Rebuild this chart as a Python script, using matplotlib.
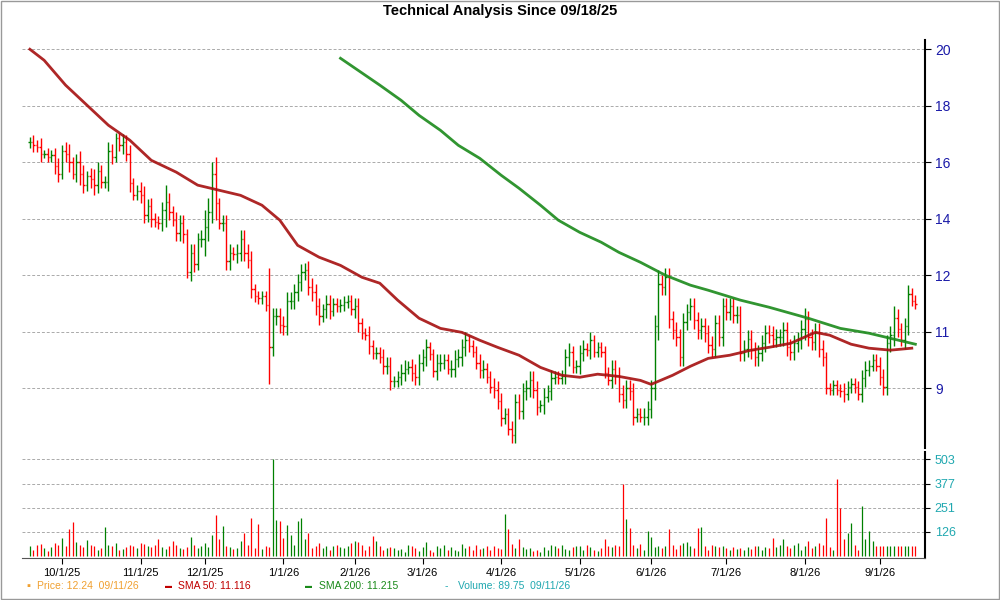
import matplotlib
matplotlib.use("Agg")
import matplotlib.pyplot as plt
import numpy as np
import pandas as pd
from pandas.tseries.holiday import USFederalHolidayCalendar
from pandas.tseries.offsets import CustomBusinessDay
from matplotlib.patches import Rectangle

plt.rcParams['font.family'] = ['Liberation Sans', 'DejaVu Sans']

title = "Technical Analysis Since 09/18/25"
start_date = "2025-09-18"

closes = [
    16.7,16.6,16.55,16.3,16.3,16.2,16.25,15.85,15.6,16.4,
    16.3,16.0,15.6,16.0,15.6,15.2,15.5,15.4,15.2,15.7,15.3,
    15.3,16.4,16.2,16.85,16.6,16.7,16.3,15.25,14.85,15.0,
    14.85,14.15,14.45,14.0,13.9,13.85,14.3,14.6,14.25,13.95,
    13.5,13.85,13.45,12.1,12.8,12.4,13.3,13.3,13.7,14.25,
    15.6,14.55,13.85,13.85,12.5,12.8,12.75,12.8,13.3,12.8,
    12.55,11.5,11.25,11.2,11.25,10.95,9.45,10.55,10.55,10.25,10.2,
    11.1,11.1,11.4,11.75,12.1,12.2,11.6,11.4,10.9,10.55,10.8,
    11.0,10.75,11.0,10.9,10.95,11.05,11.1,10.8,10.9,10.3,9.95,9.9,
    9.5,9.25,9.25,9.1,8.8,8.8,8.25,8.25,8.4,8.55,8.7,8.75,
    8.55,8.4,8.9,9.1,9.45,9.2,8.6,8.9,8.9,9.0,8.7,8.7,
    9.05,9.1,9.45,9.7,9.5,9.3,8.9,8.65,8.7,8.4,8.05,7.95,
    7.55,6.95,7.1,6.55,6.35,7.5,7.2,7.9,8.0,8.3,7.95,7.35,7.4,
    7.7,7.9,8.35,8.4,8.35,8.45,9.1,9.3,8.75,8.8,9.25,9.4,
    9.35,9.7,9.3,9.45,9.3,8.55,8.3,8.7,8.45,7.8,7.6,8.0,
    7.9,7.0,7.1,7.0,7.0,
    7.25,8.0,10.2,11.7,11.6,11.95,10.45,10.05,9.8,9.1,
    10.35,10.7,10.9,10.4,10.05,10.2,9.95,9.55,9.4,10.3,
    9.8,10.9,10.7,10.9,10.6,10.6,9.25,9.4,9.75,9.35,9.1,
    9.25,9.6,9.95,9.9,9.75,9.8,9.8,10.05,9.45,9.3,9.6,
    9.7,10.1,10.45,9.8,9.65,10.0,9.4,9.1,8.0,7.95,8.1,
    7.95,7.9,7.8,8.05,8.15,8.05,7.8,8.35,8.65,8.8,9.0,
    8.8,8.4,8.05,9.6,9.9,10.5,10.1,9.7,10.2,11.35,11.1,11.0,
]
n = len(closes)

wicks = [
    0.2,0.25,0.2,0.3,0.15,0.2,0.2,0.25,0.3,0.2,
    0.3,0.35,0.2,0.3,0.4,0.3,0.2,0.3,0.35,0.3,0.2,
    0.2,0.3,0.25,0.2,0.2,0.3,0.25,0.3,0.2,0.2,
    0.3,0.3,0.25,0.3,0.2,0.2,0.3,0.6,0.3,0.2,
    0.3,0.3,0.3,0.2,0.3,0.3,0.2,0.3,0.6,0.5,
    0.4,0.6,0.2,0.3,0.3,0.3,0.2,0.3,0.3,0.3,
    0.3,0.3,0.2,0.2,0.2,0.2,1.3,0.3,0.3,0.3,0.3,
    0.3,0.3,0.3,0.3,0.3,0.25,0.3,0.3,0.3,0.3,0.2,
    0.3,0.3,0.2,0.2,0.2,0.2,0.2,0.2,0.3,0.3,0.2,0.2,
    0.3,0.2,0.2,0.2,0.3,0.3,0.3,0.2,0.2,0.3,0.3,0.2,
    0.3,0.3,0.3,0.3,0.3,0.2,0.2,0.3,0.3,0.2,0.2,0.3,
    0.3,0.3,0.3,0.3,0.2,0.2,0.2,0.3,0.3,0.2,0.2,0.3,
    0.3,0.3,0.2,0.2,0.3,0.3,0.3,0.3,0.3,0.3,0.3,0.3,0.2,
    0.3,0.2,0.3,0.2,0.2,0.2,0.3,0.3,0.2,0.2,0.3,0.3,
    0.2,0.3,0.2,0.2,0.2,0.2,0.2,0.3,0.3,0.3,0.3,0.3,
    0.3,0.3,0.2,0.2,0.3,
    0.3,0.3,0.4,0.5,0.3,0.3,0.3,0.3,0.3,0.3,
    0.3,0.3,0.3,0.3,0.3,0.3,0.3,0.3,0.3,0.3,
    0.3,0.3,0.3,0.3,0.3,0.3,0.3,0.3,0.3,0.3,0.3,
    0.3,0.3,0.3,0.3,0.3,0.3,0.3,0.3,0.3,0.3,0.3,
    0.3,0.3,0.4,0.3,0.3,0.3,0.3,0.3,0.2,0.2,0.2,
    0.2,0.2,0.3,0.2,0.2,0.2,0.2,0.3,0.3,0.2,0.2,
    0.2,0.3,0.3,0.3,0.3,0.4,0.3,0.2,0.3,0.3,0.2,0.2,
]

sma50_idx = [0,4,10,16,22,28,34,41,47,52,59,65,70,75,81,87,93,98,103,109,115,121,126,131,
             137,143,149,154,159,165,171,174,180,185,190,196,202,207,213,220,224,230,235,241,247]
sma50_val = [20.0,19.61,18.73,18.02,17.31,16.78,16.07,15.65,15.19,15.04,14.83,14.48,13.95,
             13.06,12.64,12.35,11.93,11.72,11.12,10.48,10.12,9.98,9.70,9.45,9.17,8.74,8.46,
             8.39,8.50,8.42,8.28,8.14,8.46,8.78,9.06,9.17,9.35,9.45,9.59,9.98,9.88,9.56,9.42,
             9.35,9.42]
sma200_idx = [87,98,104,109,115,120,126,132,137,143,148,154,160,165,171,178,185,190,199,207,
              218,227,235,241,248]
sma200_val = [19.68,18.73,18.19,17.66,17.13,16.60,16.14,15.54,15.08,14.48,13.95,13.52,13.17,
              12.81,12.46,12.0,11.65,11.47,11.12,10.87,10.48,10.12,9.95,9.77,9.56]

volumes = [
    55,30,60,65,40,25,45,70,60,95,
    50,140,180,75,60,45,85,60,55,30,
    40,150,60,55,70,30,35,45,60,55,
    40,70,65,55,45,60,90,45,35,55,
    80,60,40,35,45,100,60,40,55,70,
    45,110,215,90,155,50,45,35,40,80,
    120,60,200,40,165,35,50,45,503,190,
    185,95,160,110,60,185,200,90,120,40,
    50,70,40,55,30,55,60,45,40,55,
    70,80,75,60,30,50,105,80,50,30,
    40,45,40,30,35,20,60,50,40,25,
    45,75,30,20,55,40,60,30,45,30,
    25,65,40,50,30,60,35,40,55,30,
    55,40,35,220,140,65,40,90,45,35,
    40,25,30,20,45,30,60,55,40,60,
    35,30,45,55,50,30,60,45,30,25,
    40,90,50,45,60,50,377,195,145,60,
    40,65,30,130,100,45,55,40,50,140,
    60,35,60,70,75,55,40,145,150,55,
    30,60,50,45,55,40,30,45,35,40,
    30,45,35,50,55,30,45,40,95,45,
    60,90,55,40,60,70,30,50,80,40,
    55,70,60,200,45,30,400,250,90,120,
    170,60,30,260,90,130,80,
]

price_ticks = [20, 18, 16, 14, 12, 10, 8]
price_ticklabels = ["20", "18", "16", "14", "12", "11", "9"]
vol_ticks = [126, 251, 377, 503]
legend_price = "Price: 12.24  09/11/26"
legend_sma50 = "SMA 50: 11.116"
legend_sma200 = "SMA 200: 11.215"
legend_vol = "Volume: 89.75  09/11/26"

cbd = CustomBusinessDay(calendar=USFederalHolidayCalendar())
dates = pd.date_range(start_date, periods=n, freq=cbd)
x = np.arange(n)
closes_a = np.array(closes)
opens = np.concatenate([[closes_a[0]], closes_a[:-1]])
wk = np.array((wicks + [0.2] * n)[:n])
highs = np.maximum(opens, closes_a) + wk
lows = np.minimum(opens, closes_a) - wk
vols = np.array((volumes + [50] * n)[:n])

GREEN = "#008000"
RED = "#ff0000"

fig = plt.figure(figsize=(10, 6), dpi=100)
fig.patches.append(Rectangle((0.001, 0.001), 0.998, 0.997, transform=fig.transFigure,
                             fill=False, edgecolor="#999999", linewidth=1))
ax = fig.add_axes([0.022, 0.253, 0.903, 0.68])
axv = fig.add_axes([0.022, 0.07, 0.903, 0.177], sharex=ax)

up = closes_a >= opens
cols = np.where(up, GREEN, RED)
ax.vlines(x, lows, highs, colors=cols, linewidth=1.0)
ax.hlines(opens, x - 0.4, x, colors=cols, linewidth=1.0)
ax.hlines(closes_a, x, x + 0.4, colors=cols, linewidth=1.0)
ax.plot(sma50_idx, sma50_val, color="#a50f0f", linewidth=2, alpha=0.9)
ax.plot(sma200_idx, sma200_val, color="#1a8a1a", linewidth=2, alpha=0.9)

ax.set_xlim(-2.2, 250.7)
ax.set_ylim(5.88, 20.32)
ax.yaxis.tick_right()
ax.set_yticks(price_ticks)
ax.set_yticklabels(price_ticklabels, color="#1a1aa8", fontsize=10)
ax.grid(axis="y", color="#aaaaaa", linestyle=(0, (3, 2)), linewidth=0.7)
for s in ["top", "left", "bottom"]:
    ax.spines[s].set_visible(False)
ax.spines["right"].set_linewidth(1.5)
ax.tick_params(axis="x", bottom=False, labelbottom=False)
ax.tick_params(axis="y", length=4)

axv.vlines(x, 0, vols, colors=cols, linewidth=0.9)
axv.set_ylim(-10, 543)
axv.yaxis.tick_right()
axv.set_yticks(vol_ticks)
axv.set_yticklabels([str(v) for v in vol_ticks], color="#20a8b0", fontsize=9)
axv.grid(axis="y", color="#aaaaaa", linestyle=(0, (3, 2)), linewidth=0.7)
for s in ["top", "left"]:
    axv.spines[s].set_visible(False)
axv.spines["right"].set_linewidth(1.5)
axv.spines["bottom"].set_color("#555555")

month_pos, month_lab = [], []
for i in range(1, n):
    if dates[i].month != dates[i - 1].month:
        month_pos.append(i)
        month_lab.append(f"{dates[i].month}/1/{dates[i].strftime('%y')}")
axv.set_xticks(month_pos)
axv.set_xticklabels(month_lab, fontsize=8)
axv.tick_params(axis="x", length=4)

fig.text(0.5, 0.982, title, ha="center", va="center", fontsize=10.5, fontweight="bold")
ly = 0.023
fig.text(0.026, ly, "▪", color="#f0a030", fontsize=8, va="center")
fig.text(0.037, ly, legend_price, color="#f0a030", fontsize=7.5, va="center")
fig.text(0.165, ly, "▬", color="#c00000", fontsize=5, va="center")
fig.text(0.178, ly, legend_sma50, color="#c00000", fontsize=7.5, va="center")
fig.text(0.305, ly, "▬", color="#1a8a1a", fontsize=5, va="center")
fig.text(0.319, ly, legend_sma200, color="#1a8a1a", fontsize=7.5, va="center")
fig.text(0.445, ly, "-", color="#20a8b0", fontsize=7.5, va="center")
fig.text(0.458, ly, legend_vol, color="#20a8b0", fontsize=7.5, va="center")

fig.savefig("out.png", dpi=100)
